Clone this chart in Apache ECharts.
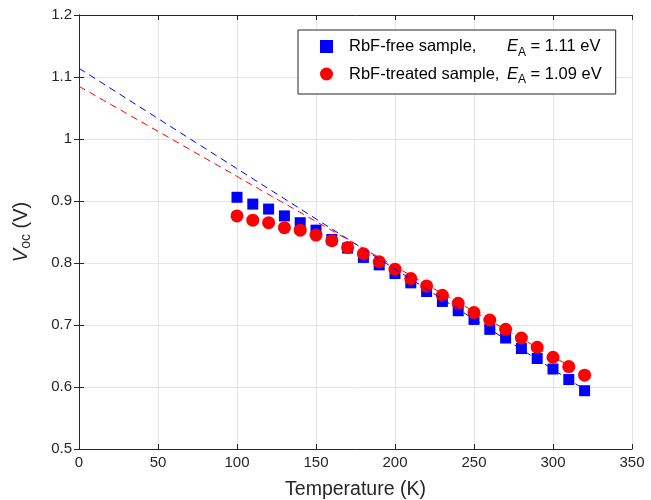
<!DOCTYPE html>
<html><head><meta charset="utf-8">
<script src="https://cdn.jsdelivr.net/npm/echarts@6/dist/echarts.min.js"></script>
<style>html,body{margin:0;padding:0;background:#fff}#c{width:651px;height:500px}</style>
</head><body><div id="c"></div>
<script>
const temps = [100,110,120,130,140,150,160,170,180,190,200,210,220,230,240,250,260,270,280,290,300,310,320];
const vocFree = [0.906,0.895,0.887,0.876,0.865,0.853,0.838,0.824,0.809,0.797,0.783,0.768,0.754,0.738,0.723,0.709,0.693,0.679,0.662,0.646,0.629,0.612,0.594];
const vocTreated = [0.876,0.869,0.865,0.857,0.853,0.845,0.836,0.825,0.815,0.802,0.790,0.775,0.763,0.748,0.735,0.720,0.708,0.693,0.679,0.664,0.648,0.633,0.619];
const fitT = [0,320];
const fitFree = [1.114,0.596];
const fitTreated = [1.085,0.620];
const xTicks = [0,50,100,150,200,250,300,350];
const yTicks = [0.5,0.6,0.7,0.8,0.9,1.0,1.1,1.2];

const FONT = 'Liberation Sans, Arial, sans-serif';
const TXT = '#262626';
const pairs = (xs, ys) => xs.map((x,i)=>[x,ys[i]]);

const chart = echarts.init(document.getElementById('c'));
const axisCommon = {
  axisLine:{show:true,lineStyle:{color:TXT,width:1}},
  axisTick:{show:true,inside:true,length:5,lineStyle:{color:TXT}},
  splitLine:{show:false}
};
chart.setOption({
  animation:false,
  backgroundColor:'#fff',
  grid:{left:79,right:19,top:15,bottom:51,containLabel:false,outerBoundsMode:'none'},
  legend:{
    data:['RbF-free sample','RbF-treated sample'],
    orient:'vertical',
    left:298, top:30, width:317,
    padding:[8,14,8,22],
    itemGap:7,
    itemWidth:13, itemHeight:13,
    borderColor:TXT, borderWidth:1, backgroundColor:'#fff',
    formatter: function(name){
      if(name==='RbF-free sample') return '{n|RbF-free sample,}{e|E}{s|A}{t| = 1.11 eV}';
      return '{n|RbF-treated sample,}{e|E}{s|A}{t| = 1.09 eV}';
    },
    textStyle:{fontFamily:FONT,color:'#000',fontSize:16.5,padding:[0,0,0,11],
      rich:{
        n:{fontFamily:FONT,fontSize:16.5,color:'#000',width:158},
        e:{fontFamily:FONT,fontSize:16.5,color:'#000',fontStyle:'italic'},
        s:{fontFamily:FONT,fontSize:12,color:'#000',padding:[12,0,0,0]},
        t:{fontFamily:FONT,fontSize:16.5,color:'#000'}
      }}
  },
  xAxis:[
    Object.assign({type:'value',min:0,max:350,interval:50,position:'bottom',
      name:'Temperature (K)',nameLocation:'middle',nameGap:31,
      nameTextStyle:{fontFamily:FONT,fontSize:19.5,color:TXT},
      axisLabel:{fontFamily:FONT,fontSize:15,color:TXT,margin:6},
      splitLine:{show:true,lineStyle:{color:'#e5e5e5',width:1}}
    }, {axisLine:axisCommon.axisLine, axisTick:axisCommon.axisTick}),
    Object.assign({type:'value',min:0,max:350,interval:50,position:'top',
      axisLabel:{show:false},splitLine:{show:false}},
      {axisLine:axisCommon.axisLine, axisTick:axisCommon.axisTick})
  ],
  yAxis:[
    Object.assign({type:'value',min:0.5,max:1.2,interval:0.1,position:'left',
      name:'{i|V}{s|oc}{n| (V)}',nameLocation:'middle',nameGap:46,nameRotate:90,
      nameTextStyle:{fontFamily:FONT,fontSize:20,color:TXT,
        rich:{i:{fontFamily:FONT,fontSize:20,color:TXT,fontStyle:'italic'},
              s:{fontFamily:FONT,fontSize:14,color:TXT,padding:[10,0,0,0]},
              n:{fontFamily:FONT,fontSize:20,color:TXT}}},
      axisLabel:{fontFamily:FONT,fontSize:15,color:TXT,margin:7,
        formatter:v=>String(Math.round(v*10)/10)},
      splitLine:{show:true,lineStyle:{color:'#e5e5e5',width:1}}
    }, {axisLine:axisCommon.axisLine, axisTick:axisCommon.axisTick}),
    Object.assign({type:'value',min:0.5,max:1.2,interval:0.1,position:'right',
      axisLabel:{show:false},splitLine:{show:false}},
      {axisLine:axisCommon.axisLine, axisTick:axisCommon.axisTick})
  ],
  series:[
    {name:'RbF-free sample',type:'scatter',symbol:'rect',symbolSize:11,
      itemStyle:{color:'#0000ff',opacity:1},data:pairs(temps,vocFree),z:3},
    {name:'RbF-treated sample',type:'scatter',symbol:'circle',symbolSize:13,
      itemStyle:{color:'#ff0000',opacity:1},data:pairs(temps,vocTreated),z:4},
    {name:'fitFree',type:'line',symbol:'none',silent:true,
      lineStyle:{color:'#0000ff',width:1,type:[7,5]},data:pairs(fitT,fitFree),z:5},
    {name:'fitTreated',type:'line',symbol:'none',silent:true,
      lineStyle:{color:'#ff0000',width:1,type:[7,5]},data:pairs(fitT,fitTreated),z:5}
  ]
});
</script></body></html>
